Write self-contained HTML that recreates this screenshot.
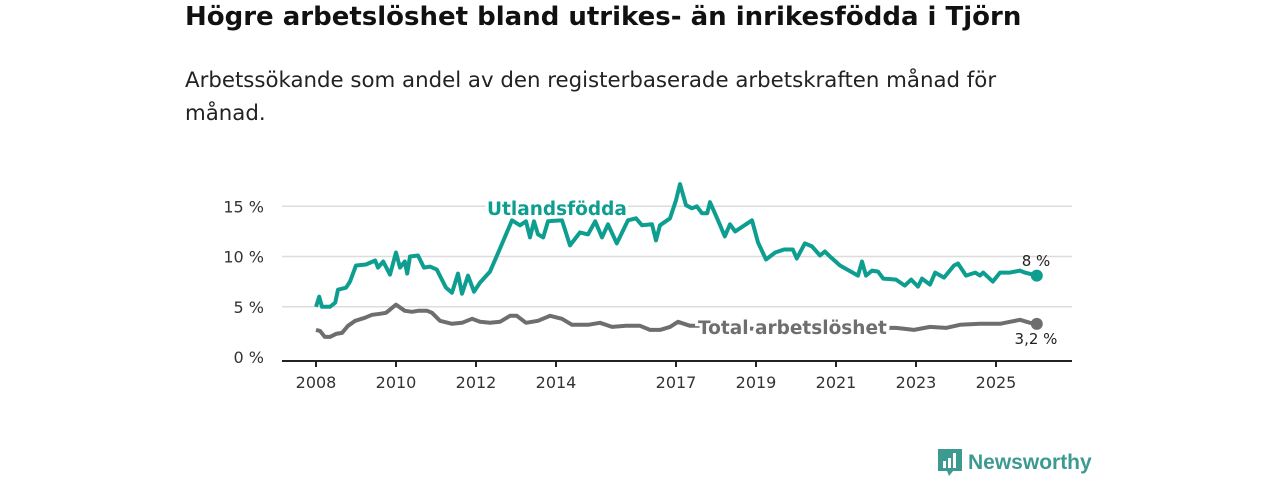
<!DOCTYPE html>
<html><head><meta charset="utf-8"><style>
body{margin:0;background:#fff;width:1280px;height:480px;overflow:hidden;font-family:"DejaVu Sans","Liberation Sans",sans-serif}
#title{position:absolute;left:185px;top:2px;font-size:26px;font-weight:bold;color:#111;margin:0;white-space:nowrap}
#sub{position:absolute;left:185px;top:64px;font-size:21.3px;line-height:33px;color:#222;width:850px;margin:0}
svg{position:absolute;left:0;top:0}
#logo{position:absolute;left:938px;top:449px;display:flex;align-items:center;gap:6px;color:#3d9a91;font-size:21px;font-weight:bold;font-family:"Liberation Sans",sans-serif}
</style></head><body>
<h1 id="title">Högre arbetslöshet bland utrikes- än inrikesfödda i Tjörn</h1>
<p id="sub">Arbetssökande som andel av den registerbaserade arbetskraften månad för månad.</p>
<svg id="chart" width="1280" height="480"></svg>
<div id="logo"><svg width="24" height="28" viewBox="0 0 24 28" style="position:static"><path d="M0 0h24v22h-9l-4 5-2-5H0z" fill="#3d9a91"/><rect x="5" y="12" width="3" height="7" fill="#fff"/><rect x="10" y="9" width="3" height="10" fill="#fff"/><rect x="15" y="4" width="3" height="15" fill="#fff"/></svg><span>Newsworthy</span></div>
<script>
const yTicks=[0,5,10,15];
const xTicks=[2008,2010,2012,2014,2017,2019,2021,2023,2025];
const fbDates=[2008,2008.08,2008.15,2008.35,2008.48,2008.55,2008.75,2008.85,2009,2009.25,2009.48,2009.55,2009.68,2009.85,2010,2010.1,2010.22,2010.28,2010.35,2010.55,2010.7,2010.85,2011.02,2011.25,2011.4,2011.55,2011.65,2011.8,2011.95,2012.1,2012.35,2012.6,2012.9,2013.1,2013.25,2013.35,2013.45,2013.55,2013.68,2013.8,2014.15,2014.35,2014.6,2014.8,2014.98,2015.15,2015.3,2015.52,2015.8,2016,2016.15,2016.4,2016.5,2016.6,2016.85,2017,2017.1,2017.25,2017.4,2017.52,2017.65,2017.78,2017.85,2018.05,2018.22,2018.35,2018.48,2018.9,2019.05,2019.25,2019.48,2019.7,2019.92,2020.02,2020.22,2020.4,2020.6,2020.72,2020.85,2021.1,2021.55,2021.65,2021.75,2021.9,2022.05,2022.18,2022.5,2022.72,2022.88,2023.05,2023.15,2023.35,2023.48,2023.7,2023.95,2024.05,2024.25,2024.48,2024.6,2024.68,2024.92,2025.1,2025.35,2025.6,2025.72,2026.02];
const fbVals=[5.0,6.0,5.0,5.0,5.4,6.7,6.9,7.5,9.1,9.2,9.6,8.9,9.5,8.2,10.4,8.9,9.5,8.3,10.0,10.1,8.9,9.0,8.7,6.9,6.4,8.3,6.3,8.1,6.5,7.4,8.5,10.8,13.6,13.1,13.5,11.9,13.5,12.2,11.9,13.5,13.6,11.1,12.4,12.2,13.5,11.9,13.2,11.3,13.6,13.8,13.1,13.2,11.6,13.1,13.8,15.6,17.2,15.1,14.8,15.0,14.3,14.3,15.4,13.6,12.0,13.2,12.5,13.6,11.4,9.7,10.4,10.7,10.7,9.8,11.3,11.0,10.1,10.5,10.0,9.1,8.1,9.5,8.1,8.6,8.5,7.8,7.7,7.1,7.7,7.0,7.8,7.2,8.4,7.9,9.1,9.3,8.1,8.4,8.1,8.4,7.5,8.4,8.4,8.6,8.4,8.1];
const totDates=[2008,2008.1,2008.22,2008.35,2008.5,2008.65,2008.8,2008.98,2009.22,2009.4,2009.6,2009.75,2010,2010.22,2010.4,2010.55,2010.78,2010.9,2011.1,2011.4,2011.65,2011.9,2012.1,2012.35,2012.6,2012.85,2013.02,2013.25,2013.55,2013.85,2014.15,2014.4,2014.8,2015.1,2015.4,2015.75,2016.1,2016.35,2016.6,2016.85,2017.05,2017.35,2017.6,2018,2018.5,2019,2019.5,2020,2020.5,2021,2021.5,2022,2022.5,2022.95,2023.35,2023.75,2024.1,2024.6,2025.1,2025.35,2025.6,2025.85,2026.02];
const totVals=[2.7,2.6,2.0,2.0,2.3,2.4,3.1,3.6,3.9,4.2,4.3,4.4,5.2,4.6,4.5,4.6,4.6,4.4,3.6,3.3,3.4,3.8,3.5,3.4,3.5,4.1,4.1,3.4,3.6,4.1,3.8,3.2,3.2,3.4,3.0,3.1,3.1,2.7,2.7,3.0,3.5,3.1,3.1,3.0,2.9,2.8,2.8,3.0,3.0,2.9,3.0,2.9,2.9,2.7,3.0,2.9,3.2,3.3,3.3,3.5,3.7,3.4,3.3];
const NS="http://www.w3.org/2000/svg";
const svg=document.getElementById('chart');
const xS=d=>316+(d-2008)*40;
const yS=v=>357-v*10.05;
function mk(t,a,p){const e=document.createElementNS(NS,t);for(const k in a)e.setAttribute(k,a[k]);(p||svg).appendChild(e);return e;}
yTicks.forEach(t=>{
  const g=mk('line',{x1:282,x2:1072,y1:yS(t),y2:yS(t),stroke:t===0?'none':'#ddd','stroke-width':1.5});
  
  
  const l=mk('text',{x:264,y:yS(t)+6,'text-anchor':'end','font-size':16,fill:'#333'});
  l.textContent=t+' %';
  
  
});
const ax=mk('line',{x1:282,x2:1072,y1:361,y2:361,stroke:'#222','stroke-width':2});


xTicks.forEach(t=>{
  mk('line',{x1:xS(t),x2:xS(t),y1:361,y2:367,stroke:'#222','stroke-width':2});
  const l=mk('text',{x:xS(t),y:388,'text-anchor':'middle','font-size':16,fill:'#333'});
  l.textContent=t;
  
  
});
function line(ds,vs,c,name){
  const p=mk('path',{d:ds.map((d,i)=>(i?'L':'M')+xS(d).toFixed(1)+' '+yS(vs[i]).toFixed(1)).join(''),fill:'none',stroke:c,'stroke-width':4,'stroke-linejoin':'round'});
  
  
  const n=ds.length-1;
  const dot=mk('circle',{cx:xS(ds[n]),cy:yS(vs[n]),r:6,fill:c});
  
  
}
line(totDates,totVals,'#6e6e6e','total-line');
line(fbDates,fbVals,'#0e9e90','foreign-born-line');
const l1=mk('text',{x:487,y:215,'font-size':18.5,'font-weight':'bold',fill:'#0e9e90',stroke:'#fff','stroke-width':6,'paint-order':'stroke'});
l1.textContent='Utlandsfödda';


const l2=mk('text',{x:698,y:334,'font-size':18.5,'font-weight':'bold',fill:'#6e6e6e',stroke:'#fff','stroke-width':6,'paint-order':'stroke'});
l2.textContent='Total arbetslöshet';


const e1=mk('text',{x:1036,y:266,'text-anchor':'middle','font-size':15,fill:'#222'});
e1.textContent=fbVals[fbVals.length-1].toFixed(0)+' %';


const e2=mk('text',{x:1036,y:344,'text-anchor':'middle','font-size':15,fill:'#222'});
e2.textContent='3,2 %';


</script>
</body></html>
